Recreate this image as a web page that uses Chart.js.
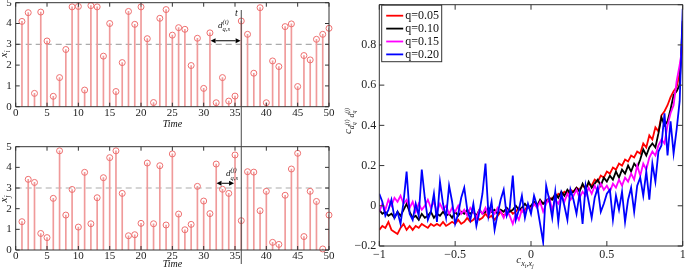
<!DOCTYPE html>
<html>
<head>
<meta charset="utf-8">
<script src="https://cdn.jsdelivr.net/npm/chart.js@4.4.1/dist/chart.umd.min.js"></script>
<style>
  html, body { margin: 0; padding: 0; background: #fff; overflow: hidden; }
  body { width: 685px; height: 269px; position: relative; }
  canvas { position: absolute; }
</style>
</head>
<body>
<canvas id="stemTop" width="345" height="145" style="left:0;top:-10px"></canvas>
<canvas id="stemBottom" width="345" height="140" style="left:0;top:135px"></canvas>
<canvas id="corr" width="360" height="279" style="left:340px;top:-10px"></canvas>
<script>
// time steps of the two stem plots
const timeSteps = [1,2,3,4,5,6,7,8,9,10,11,12,13,14,15,16,17,18,19,20,21,22,23,24,25,
  26,27,28,29,30,31,32,33,34,35,36,37,38,39,40,41,42,43,44,45,46,47,48,49,50];
const seriesXi = [4.1,4.52,0.64,4.55,3.16,0.5,1.4,2.75,4.8,4.82,0.8,4.86,4.8,2.43,4.0,0.73,2.12,4.58,3.96,4.8,
  3.27,0.2,4.25,4.67,3.44,3.8,3.72,1.98,3.29,0.88,3.55,0.19,1.4,0.27,0.51,4.12,3.48,1.61,4.76,0.19,
  2.2,1.93,3.85,3.98,0.97,2.46,2.25,3.24,3.48,3.77];
const seriesXj = [1.37,3.42,3.27,0.8,0.6,2.5,4.8,1.69,2.93,1.11,3.76,1.27,2.53,3.5,4.47,4.8,2.74,0.69,0.74,1.29,
  4.21,1.27,4.08,1.21,4.65,1.74,0.98,1.24,3.08,2.37,1.76,4.16,2.94,2.74,4.6,1.42,3.79,3.77,1.9,2.84,
  0.37,0.27,2.65,3.92,4.68,0.65,2.84,2.35,0.05,1.69];
const threshold = 3;
const tNow = 36;

// right plot: correlation of inter-event distances vs correlation of series
const corrX = [-1,-0.98,-0.96,-0.94,-0.92,-0.9,-0.88,-0.86,-0.84,-0.82,
  -0.8,-0.78,-0.76,-0.74,-0.72,-0.7,-0.68,-0.66,-0.64,-0.62,
  -0.6,-0.58,-0.56,-0.54,-0.52,-0.5,-0.48,-0.46,-0.44,-0.42,
  -0.4,-0.38,-0.36,-0.34,-0.32,-0.3,-0.28,-0.26,-0.24,-0.22,
  -0.2,-0.18,-0.16,-0.14,-0.12,-0.1,-0.08,-0.06,-0.04,-0.02,
  0,0.02,0.04,0.06,0.08,0.1,0.12,0.14,0.16,0.18,
  0.2,0.22,0.24,0.26,0.28,0.3,0.32,0.34,0.36,0.38,
  0.4,0.42,0.44,0.46,0.48,0.5,0.52,0.54,0.56,0.58,
  0.6,0.62,0.64,0.66,0.68,0.7,0.72,0.74,0.76,0.78,
  0.8,0.82,0.84,0.86,0.88,0.9,0.92,0.94,0.96,0.98,
  1];
const q05 = [-0.12,-0.10,-0.11,-0.08,-0.12,-0.13,-0.14,-0.11,-0.09,-0.12,
  -0.10,-0.12,-0.10,-0.11,-0.09,-0.10,-0.11,-0.09,-0.10,-0.09,
  -0.10,-0.08,-0.10,-0.09,-0.08,-0.09,-0.07,-0.09,-0.08,-0.06,
  -0.08,-0.07,-0.05,-0.07,-0.06,-0.04,-0.06,-0.05,-0.07,-0.05,
  -0.03,-0.05,-0.04,-0.02,-0.04,-0.03,-0.01,-0.03,-0.02,0.00,
  -0.01,0.01,0.00,0.02,0.01,0.03,0.02,0.04,0.03,0.06,
  0.05,0.07,0.06,0.08,0.07,0.09,0.08,0.10,0.09,0.11,
  0.10,0.13,0.12,0.15,0.14,0.17,0.16,0.19,0.18,0.21,
  0.20,0.23,0.22,0.25,0.24,0.27,0.26,0.31,0.29,0.35,
  0.33,0.39,0.37,0.45,0.47,0.50,0.54,0.57,0.59,0.66,
  0.80];
const q10 = [-0.02,-0.04,-0.03,-0.05,-0.04,-0.06,-0.03,-0.05,-0.02,0.01,
  -0.03,-0.06,-0.05,-0.07,-0.04,-0.06,-0.05,-0.03,-0.06,-0.04,
  -0.05,-0.03,-0.05,-0.04,-0.06,-0.03,-0.05,-0.03,-0.04,-0.02,
  -0.04,-0.03,-0.05,-0.02,-0.04,-0.03,-0.01,-0.03,-0.02,-0.04,
  -0.02,-0.03,-0.01,-0.03,-0.02,0.00,-0.02,-0.01,0.01,-0.01,
  0.00,0.02,0.00,0.03,0.01,0.02,0.04,0.03,0.06,0.04,
  0.07,0.05,0.08,0.06,0.07,0.09,0.07,0.11,0.08,0.12,
  0.09,0.11,0.13,0.10,0.14,0.12,0.15,0.13,0.17,0.14,
  0.18,0.16,0.20,0.17,0.21,0.19,0.23,0.28,0.25,0.29,
  0.31,0.29,0.36,0.44,0.40,0.42,0.48,0.55,0.57,0.60,
  0.92];
const q15 = [-0.03,0.01,-0.02,0.03,0.00,0.04,0.02,0.05,0.01,0.03,
  -0.01,0.02,-0.03,0.01,-0.02,0.00,0.03,-0.01,0.02,-0.03,
  0.01,-0.02,0.00,-0.04,-0.01,-0.03,0.00,-0.04,-0.02,-0.05,
  -0.01,-0.03,-0.06,-0.02,-0.04,-0.01,-0.05,-0.02,-0.04,-0.01,
  -0.03,-0.06,-0.02,-0.05,-0.09,-0.04,-0.07,-0.02,-0.04,0.00,
  -0.02,0.01,-0.01,0.02,-0.03,0.01,0.04,-0.02,0.03,0.01,
  0.05,0.02,0.06,0.03,0.05,0.08,0.04,0.07,0.05,0.09,
  0.06,0.10,0.07,0.11,0.08,0.10,0.07,0.11,0.09,0.13,
  0.10,0.14,0.12,0.16,0.13,0.20,0.15,0.21,0.18,0.24,
  0.27,0.25,0.30,0.33,0.31,0.40,0.46,0.50,0.62,0.70,
  0.80];
const q20 = [0.06,0.02,-0.05,-0.02,0.03,-0.06,-0.03,-0.09,0.02,0.17,
  -0.04,-0.07,0.01,-0.05,0.18,0.04,-0.07,-0.03,0.06,-0.08,
  0.12,0.01,-0.06,0.10,0.02,-0.09,-0.04,0.04,0.09,-0.02,
  -0.07,0.01,-0.10,-0.03,0.06,0.21,-0.05,0.02,-0.12,-0.04,
  0.03,0.08,-0.05,-0.01,0.15,-0.07,-0.02,0.05,-0.06,0.01,
  -0.04,0.05,0.00,-0.09,-0.18,0.10,0.03,-0.06,0.07,-0.08,
  0.06,0.00,-0.07,0.08,0.03,-0.04,0.06,-0.09,0.10,0.02,
  -0.06,0.04,0.09,-0.03,0.01,0.06,0.08,-0.07,0.05,-0.02,
  0.07,-0.08,0.03,0.09,-0.03,0.10,0.14,0.05,0.17,0.03,
  0.21,0.12,0.27,0.30,0.46,0.25,0.42,0.26,0.38,0.52,
  0.98];
const qLabels = ['q=0.05', 'q=0.10', 'q=0.15', 'q=0.20'];

const SERIF = '"Liberation Serif", "Times New Roman", serif';

// draw a row of italic text runs: [text, size, dy, stackOnPrevious]
function drawRuns(ctx, runs, x, y, align) {
  let pos = 0, prevStart = 0;
  const starts = runs.map(r => {
    ctx.font = 'italic ' + r[1] + 'px ' + SERIF;
    const w = ctx.measureText(r[0]).width;
    const s = r[3] ? prevStart : pos;
    prevStart = s;
    pos = Math.max(pos, s + w);
    return s;
  });
  const x0 = align === 'center' ? x - pos / 2 : x;
  runs.forEach((r, i) => {
    ctx.font = 'italic ' + r[1] + 'px ' + SERIF;
    ctx.fillText(r[0], x0 + starts[i], y + r[2]);
  });
}

function doubleArrow(ctx, x1, x2, y) {
  const h = 5, w = 2.4;
  ctx.strokeStyle = '#000';
  ctx.fillStyle = '#000';
  ctx.lineWidth = 1;
  ctx.beginPath(); ctx.moveTo(x1 + h, y); ctx.lineTo(x2 - h, y); ctx.stroke();
  ctx.beginPath(); ctx.moveTo(x1, y); ctx.lineTo(x1 + h, y - w); ctx.lineTo(x1 + h, y + w); ctx.closePath(); ctx.fill();
  ctx.beginPath(); ctx.moveTo(x2, y); ctx.lineTo(x2 - h, y - w); ctx.lineTo(x2 - h, y + w); ctx.closePath(); ctx.fill();
}

// matlab style box with inward ticks
const axesBox = {
  id: 'axesBox',
  afterDraw(chart, args, opts) {
    const { ctx, chartArea: a } = chart;
    const xs = chart.scales.x, ys = chart.scales.y;
    const len = opts.tick;
    ctx.save();
    ctx.strokeStyle = '#333';
    ctx.lineWidth = 1;
    ctx.beginPath();
    ctx.rect(a.left, a.top, a.right - a.left, a.bottom - a.top);
    xs.ticks.forEach(t => {
      const p = xs.getPixelForValue(t.value);
      ctx.moveTo(p, a.bottom); ctx.lineTo(p, a.bottom - len);
      ctx.moveTo(p, a.top); ctx.lineTo(p, a.top + len);
    });
    ys.ticks.forEach(t => {
      const p = ys.getPixelForValue(t.value);
      ctx.moveTo(a.left, p); ctx.lineTo(a.left + len, p);
      ctx.moveTo(a.right, p); ctx.lineTo(a.right - len, p);
    });
    ctx.stroke();
    ctx.restore();
  }
};

const stemExtras = {
  id: 'stemExtras',
  beforeDatasetsDraw(chart) {
    const { ctx, chartArea: a } = chart;
    const y = chart.scales.y.getPixelForValue(threshold);
    ctx.save();
    ctx.strokeStyle = '#ababab';
    ctx.lineWidth = 1.2;
    ctx.setLineDash([6, 4]);
    ctx.beginPath(); ctx.moveTo(a.left, y); ctx.lineTo(a.right, y); ctx.stroke();
    ctx.restore();
  },
  afterDraw(chart, args, o) {
    const { ctx, chartArea: a } = chart;
    const xs = chart.scales.x, ys = chart.scales.y;
    const off = o.pageTop;
    ctx.save();
    const xt = xs.getPixelForValue(tNow);
    ctx.strokeStyle = '#4a4a4a';
    ctx.lineWidth = 1;
    ctx.beginPath(); ctx.moveTo(xt, o.markFrom - off); ctx.lineTo(xt, o.markTo - off); ctx.stroke();
    doubleArrow(ctx, xs.getPixelForValue(o.arrow[0]), xs.getPixelForValue(o.arrow[1]), ys.getPixelForValue(o.arrow[2]));
    ctx.fillStyle = '#111';
    ctx.textBaseline = 'alphabetic';
    drawRuns(ctx, o.label, o.labelAt[0], o.labelAt[1] - off, 'left');
    if (o.tLabel) drawRuns(ctx, [['t', 10, 0]], o.tLabel[0], o.tLabel[1] - off, 'left');
    drawRuns(ctx, [['Time', 10, 0]], (a.left + a.right) / 2, o.timeY - off, 'center');
    ctx.translate(o.yTitle[0], o.yTitle[1] - off);
    ctx.rotate(-Math.PI / 2);
    drawRuns(ctx, [['x', 11, 0], [o.sub, 7.5, 2.5]], 0, 0, 'center');
    ctx.restore();
  }
};

const noGrid = { display: false, drawTicks: false, tickLength: 0 };

function stemChart(id, values, extras, xAxisH) {
  const pts = timeSteps.map((t, i) => ({ x: t, y: values[i] }));
  return new Chart(document.getElementById(id), {
    type: 'bar',
    data: {
      datasets: [
        { type: 'bar', data: pts, backgroundColor: '#f09a9a', barThickness: 1, borderWidth: 0, order: 2 },
        { type: 'line', data: pts, showLine: false, pointRadius: 3, pointBorderWidth: 1,
          pointBorderColor: '#ee6f6f', pointBackgroundColor: 'rgba(255,255,255,0)', clip: false, order: 1 }
      ]
    },
    options: {
      responsive: false,
      animation: false,
      events: [],
      layout: { padding: { top: extras.padTop, right: 16, left: 0, bottom: 0 } },
      plugins: { legend: { display: false }, tooltip: { enabled: false }, axesBox: { tick: 4 }, stemExtras: extras },
      scales: {
        x: {
          type: 'linear', min: 0, max: 50, offset: false,
          grid: noGrid, border: { display: false },
          ticks: { stepSize: 5, autoSkip: false, maxRotation: 0, padding: 0, color: '#222', font: { family: SERIF, size: 11 } },
          afterFit: s => { s.height = xAxisH; }
        },
        y: {
          min: 0, max: 5,
          grid: noGrid, border: { display: false },
          ticks: { stepSize: 1, padding: 4, color: '#222', font: { family: SERIF, size: 11 } },
          afterFit: s => { s.width = 15.7; }
        }
      }
    },
    plugins: [axesBox, stemExtras]
  });
}

stemChart('stemTop', seriesXi, {
  pageTop: -10, padTop: 12.7, markFrom: 10, markTo: 145,
  arrow: [31.1, 35.9, 3.17],
  label: [['d', 9, 0], ['(i)', 6.5, -4], ['q,s', 6.5, 3.5, true]], labelAt: [218, 27.5],
  tLabel: [235, 15.5], timeY: 126.5, yTitle: [7, 54], sub: 'i'
}, 28.3);

stemChart('stemBottom', seriesXj, {
  pageTop: 135, padTop: 11.7, markFrom: 135, markTo: 264,
  arrow: [32.05, 34.85, 3.23],
  label: [['d', 9, 0], ['(j)', 6.5, -4], ['q,s', 6.5, 3.5, true]], labelAt: [226, 176],
  tLabel: null, timeY: 267, yTitle: [7, 199], sub: 'j'
}, 25);

function fmtTick(v) {
  if (Math.abs(v) < 1e-9) return '0';
  return String(Math.round(v * 10) / 10).replace('-', '\u2212');
}

const corrExtras = {
  id: 'corrExtras',
  afterDraw(chart) {
    const { ctx, chartArea: a } = chart;
    ctx.save();
    const bx = a.left + 2.4, by = a.top + 0.5, bw = 60, bh = 56.5;
    ctx.fillStyle = '#fff';
    ctx.fillRect(bx, by, bw, bh);
    ctx.strokeStyle = '#333';
    ctx.lineWidth = 1;
    ctx.strokeRect(bx, by, bw, bh);
    chart.data.datasets.forEach((ds, i) => {
      const y = by + 10.5 + i * 12.9;
      ctx.strokeStyle = ds.borderColor;
      ctx.lineWidth = 1.8;
      ctx.beginPath(); ctx.moveTo(bx + 4.5, y); ctx.lineTo(bx + 21.5, y); ctx.stroke();
      ctx.fillStyle = '#111';
      ctx.font = '12px ' + SERIF;
      ctx.textBaseline = 'middle';
      ctx.fillText(ds.label, bx + 23.5, y + 0.5);
    });
    ctx.textBaseline = 'alphabetic';
    ctx.fillStyle = '#222';
    drawRuns(ctx, [['c', 11, 0], ['x', 8, 3], ['i', 6, 5], [',', 8, 3], ['x', 8, 3], ['j', 6, 5]],
      (a.left + a.right) / 2 - 6, 273, 'center');
    ctx.translate(10.5, 131);
    ctx.rotate(-Math.PI / 2);
    drawRuns(ctx, [['c', 11, 0], ['d', 8, 3], ['q', 6, 5.5], ['(i)', 6, -1.5, true], [' d', 8, 3], ['q', 6, 5.5], ['(j)', 6, -1.5, true]],
      0, 0, 'center');
    ctx.restore();
  }
};

const qColors = ['#ff0000', '#000000', '#ff00ff', '#0000ff'];
const qSeries = [q05, q10, q15, q20];

new Chart(document.getElementById('corr'), {
  type: 'line',
  data: {
    datasets: qSeries.map((s, k) => ({
      label: qLabels[k],
      data: corrX.map((x, i) => ({ x: x, y: s[i] })),
      borderColor: qColors[k],
      borderWidth: 1.8,
      pointRadius: 0,
      tension: 0,
      order: 4 - k
    }))
  },
  options: {
    responsive: false,
    animation: false,
    events: [],
    layout: { padding: { top: 14.7, right: 17.3, left: 0, bottom: 0 } },
    plugins: { legend: { display: false }, tooltip: { enabled: false }, axesBox: { tick: 5 } },
    scales: {
      x: {
        type: 'linear', min: -1, max: 1,
        grid: noGrid, border: { display: false },
        ticks: { stepSize: 0.5, autoSkip: false, maxRotation: 0, padding: 1.5, color: '#222',
          font: { family: SERIF, size: 12 }, callback: fmtTick },
        afterFit: s => { s.height = 23; }
      },
      y: {
        min: -0.2, max: 1,
        grid: noGrid, border: { display: false },
        ticks: { stepSize: 0.2, padding: 3, color: '#222', font: { family: SERIF, size: 12 },
          callback: v => (v > 0.95 ? '' : fmtTick(v)) },
        afterFit: s => { s.width = 39.3; }
      }
    }
  },
  plugins: [axesBox, corrExtras]
});
</script>
</body>
</html>
